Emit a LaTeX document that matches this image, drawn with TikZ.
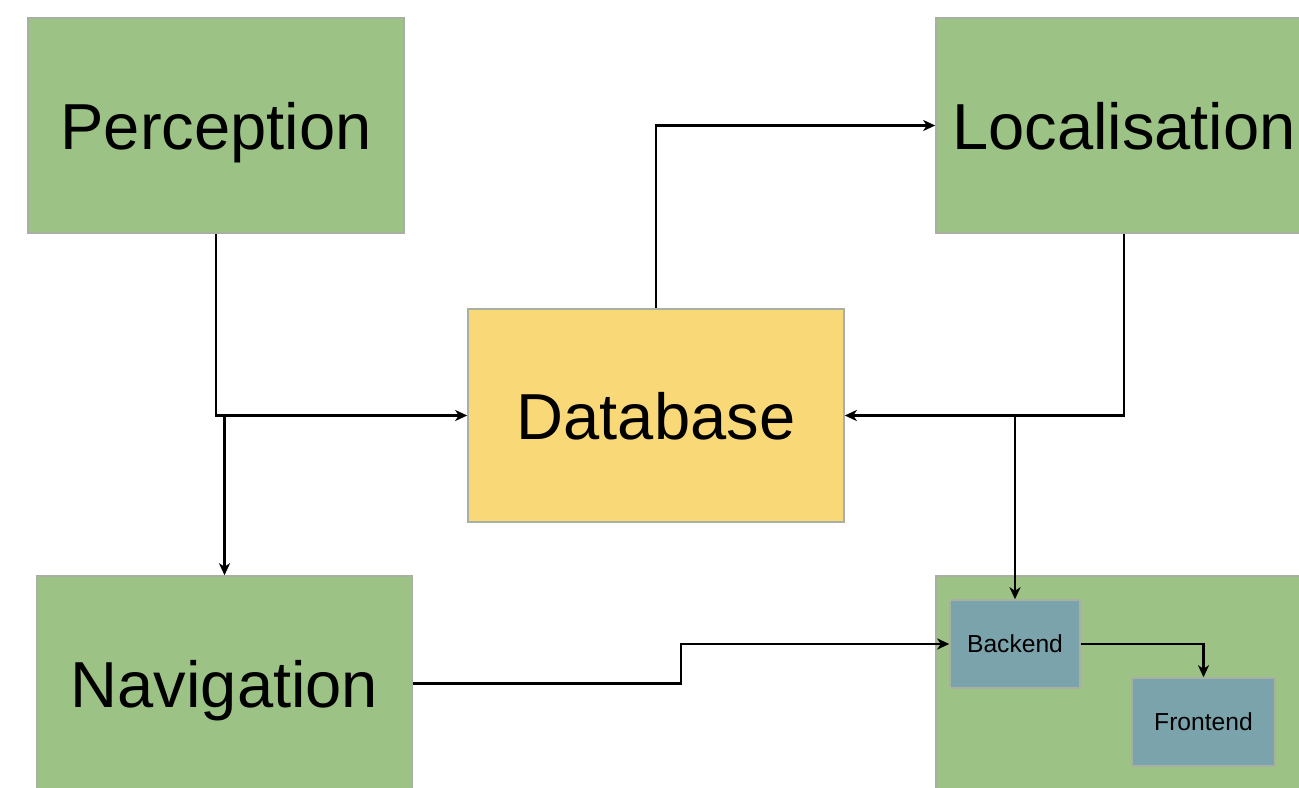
\documentclass[tikz,border=0pt]{standalone}
\usepackage{fontspec}
\setmainfont{Liberation Sans}
\usepackage{tikz}
\usetikzlibrary{calc,arrows.meta,positioning}
\definecolor{ModGreen}{HTML}{9CC385}
\definecolor{DbYellow}{HTML}{F9D878}
\definecolor{WebTeal}{HTML}{7BA3AC}
\definecolor{BoxLine}{HTML}{A8B0A4}

\begin{document}
\begin{tikzpicture}[x=0.01cm,y=-0.01cm,>={Stealth[length=1.2mm,width=1.1mm,inset=0.35mm]}]
  \tikzstyle{modbox}=[draw=BoxLine, line width=0.4pt, fill=ModGreen,
              minimum width=3.76cm, minimum height=2.15cm, inner sep=0pt,
              text depth=0pt, font=\fontsize{18.5}{22}\selectfont]
  \tikzstyle{dbbox}=[modbox, fill=DbYellow, minimum height=2.13cm]
  \tikzstyle{subbox}=[draw=BoxLine, line width=0.4pt, fill=WebTeal,
              minimum height=0.88cm, inner sep=0pt, text depth=0pt,
              font=\fontsize{7}{8}\selectfont]
  \tikzstyle{myarr}=[->, line width=0.6pt, black]
  \useasboundingbox (0,0) rectangle (1299,788);
  % modules
  \node[modbox] (perc) at (216,125.5) {Perception};
  \node[modbox] (loc) at (1124,125.5) {Localisation};
  \node[dbbox] (db) at (656,415.5) {Database};
  \node[modbox] (nav) at (224.5,683.5) {Navigation};
  % web stack
  \node[modbox, minimum width=4cm, minimum height=2.3cm] (web) at (1136,691) {};
  \node[subbox, minimum width=1.30cm] (back) at (1015,644) {Backend};
  \node[subbox, minimum width=1.43cm] (front) at (1203.5,722) {Frontend};
  % junctions on the database lines
  \coordinate (j1) at (nav.north |- db.west);
  \coordinate (j2) at (back.north |- db.east);
  % connectors
  \draw[myarr] (perc.south) |- (db.west);
  \draw[myarr] (j1) -- (nav.north);
  \draw[myarr] (db.north) |- (loc.west);
  \draw[myarr] (loc.south) |- (db.east);
  \draw[myarr] (j2) -- (back.north);
  \draw[myarr] (nav.east) -| ($(nav.east)!.5!(back.west)$) |- (back.west);
  \draw[myarr] (back.east) -| (front.north);
\end{tikzpicture}
\end{document}
